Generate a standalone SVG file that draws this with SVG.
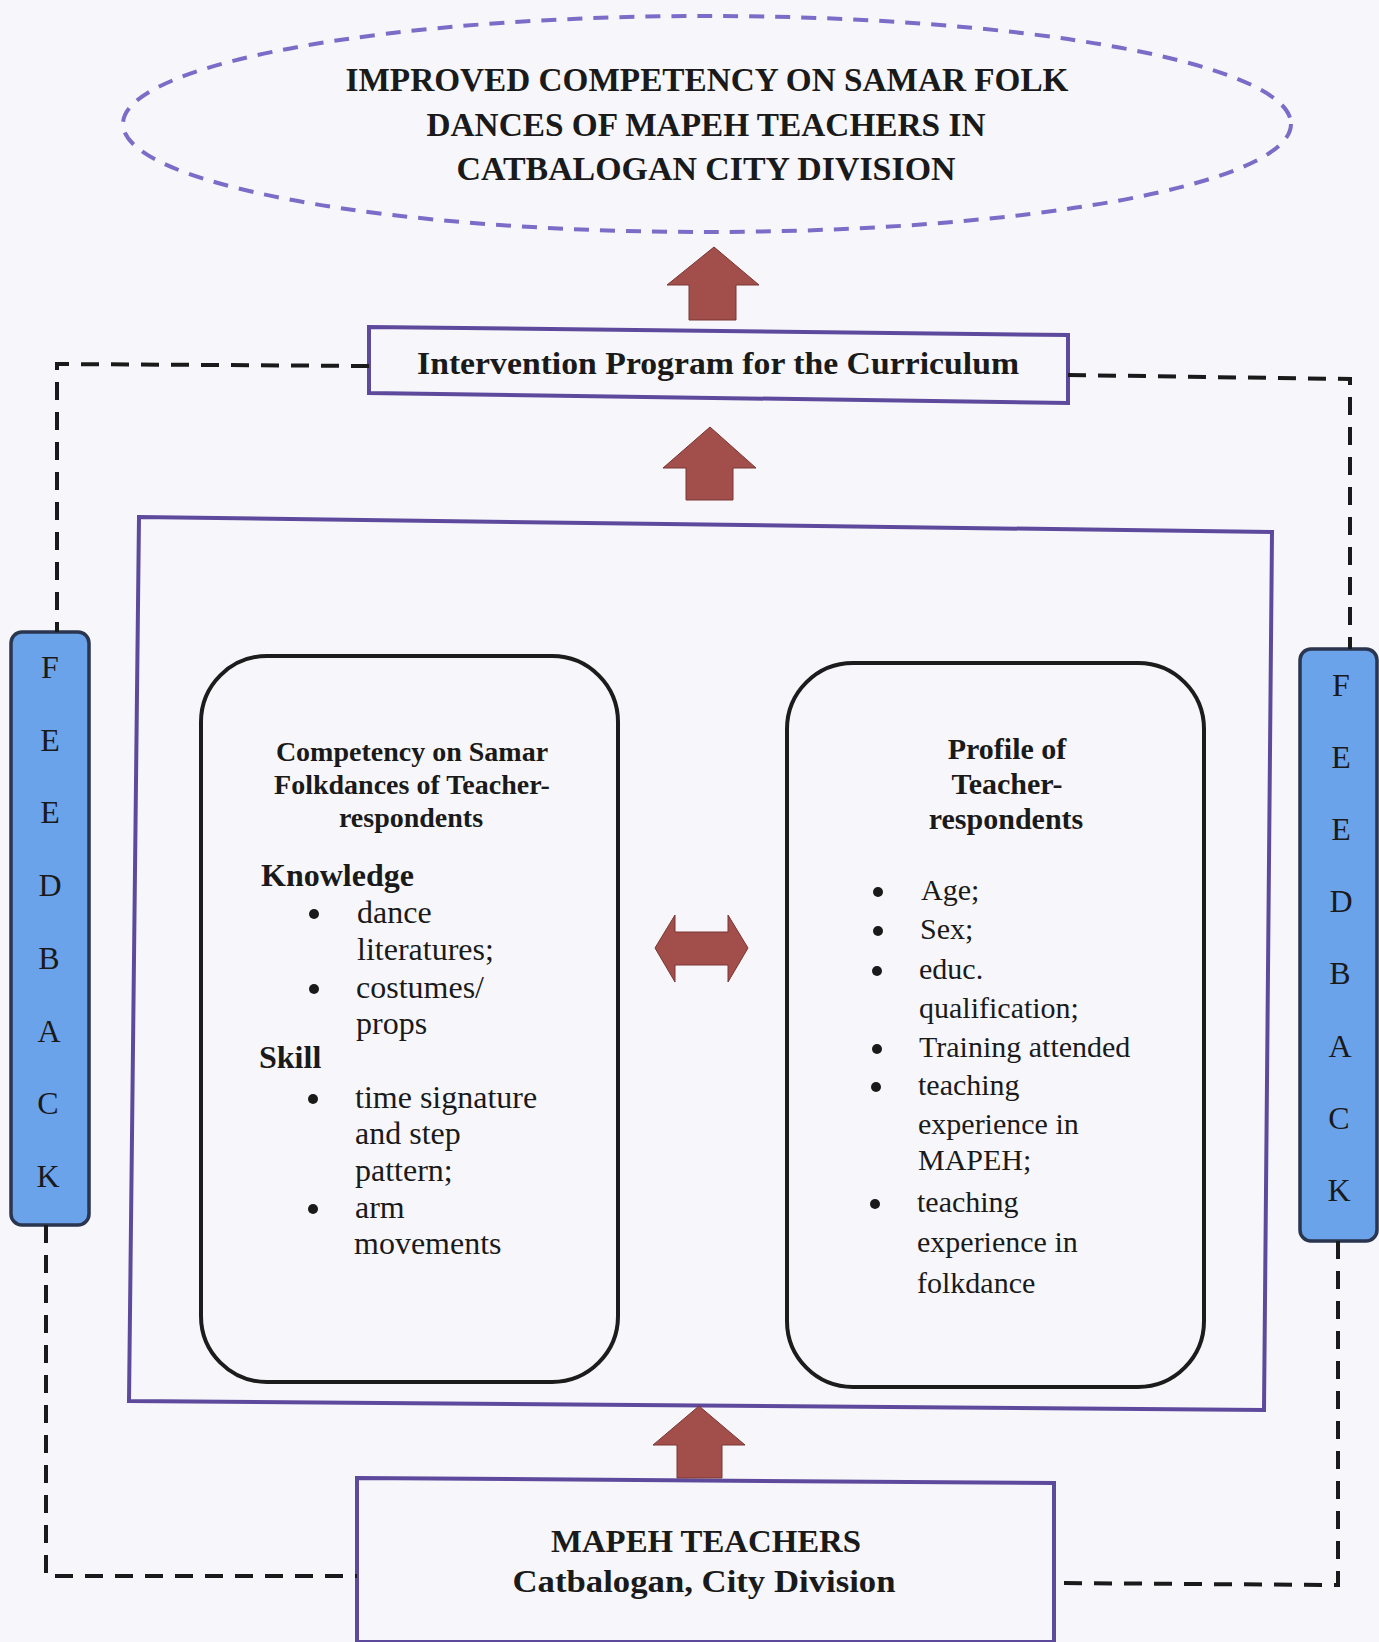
<svg xmlns="http://www.w3.org/2000/svg" width="1379" height="1642" viewBox="0 0 1379 1642">
<style>
.t{font-family:"Liberation Serif","Times New Roman",serif;fill:#1a1a1a}
.b{font-weight:bold}
.pbox{fill:none;stroke:#5e4a9c;stroke-width:4}
.rbox{fill:none;stroke:#1c1c1c;stroke-width:4}
.arrow{fill:#a24f4b;stroke:#7a3532;stroke-width:1}
.fb{fill:#6aa3ea;stroke:#2a3550;stroke-width:3.5}
.dash{fill:none;stroke:#1a1a1a;stroke-width:4;stroke-dasharray:18 12}
.fl{font-family:"Liberation Serif","Times New Roman",serif;font-size:32px;fill:#1a1a1a;text-anchor:middle}
.li{font-size:32px}
.ri{font-size:30px}
</style>
<rect x="0" y="0" width="1379" height="1642" fill="#f7f7fb"/>

<g id="outcome">
  <ellipse cx="707" cy="124" rx="584" ry="108" fill="none" stroke="#7c6cc8" stroke-width="4" stroke-dasharray="15 11"/>
  <text class="t b" x="707" y="91" font-size="33" text-anchor="middle" textLength="723" lengthAdjust="spacingAndGlyphs">IMPROVED COMPETENCY ON SAMAR FOLK</text>
  <text class="t b" x="706" y="136" font-size="33" text-anchor="middle" textLength="559" lengthAdjust="spacingAndGlyphs">DANCES OF MAPEH TEACHERS IN</text>
  <text class="t b" x="706" y="180" font-size="33" text-anchor="middle" textLength="499" lengthAdjust="spacingAndGlyphs">CATBALOGAN CITY DIVISION</text>
</g>

<g id="intervention">
  <polygon class="pbox" points="369,327 1068,335 1068,403 369,393"/>
  <text class="t b" x="718" y="374" font-size="31" text-anchor="middle" textLength="602" lengthAdjust="spacingAndGlyphs">Intervention Program for the Curriculum</text>
</g>

<g id="framework">
  <polygon class="pbox" points="139,517 1272,532 1264,1410 129,1401"/>
</g>

<g id="competency">
  <rect class="rbox" x="201" y="656" width="417" height="726" rx="66" ry="66"/>
  <text class="t b" x="412" y="761" font-size="28" text-anchor="middle">Competency on Samar</text>
  <text class="t b" x="412" y="794" font-size="28" text-anchor="middle">Folkdances of Teacher-</text>
  <text class="t b" x="411" y="827" font-size="28" text-anchor="middle">respondents</text>
  <text class="t b" x="261" y="886" font-size="32">Knowledge</text>
  <circle cx="314" cy="914" r="5" fill="#1a1a1a"/>
  <text class="t li" x="357" y="923">dance</text>
  <text class="t li" x="357" y="960">literatures;</text>
  <circle cx="314" cy="989" r="5" fill="#1a1a1a"/>
  <text class="t li" x="356" y="998">costumes/</text>
  <text class="t li" x="356" y="1034">props</text>
  <text class="t b" x="259" y="1068" font-size="32">Skill</text>
  <circle cx="313" cy="1099" r="5" fill="#1a1a1a"/>
  <text class="t li" x="355" y="1108">time signature</text>
  <text class="t li" x="355" y="1144">and step</text>
  <text class="t li" x="355" y="1181">pattern;</text>
  <circle cx="313" cy="1209" r="5" fill="#1a1a1a"/>
  <text class="t li" x="355" y="1218">arm</text>
  <text class="t li" x="354" y="1254">movements</text>
</g>

<g id="profile">
  <rect class="rbox" x="787" y="663" width="417" height="724" rx="66" ry="66"/>
  <text class="t b" x="1007" y="759" font-size="30" text-anchor="middle">Profile of</text>
  <text class="t b" x="1007" y="794" font-size="30" text-anchor="middle">Teacher-</text>
  <text class="t b" x="1006" y="829" font-size="30" text-anchor="middle">respondents</text>
  <circle cx="878" cy="892" r="5" fill="#1a1a1a"/>
  <text class="t ri" x="921" y="900">Age;</text>
  <circle cx="878" cy="931" r="5" fill="#1a1a1a"/>
  <text class="t ri" x="920" y="939">Sex;</text>
  <circle cx="877" cy="971" r="5" fill="#1a1a1a"/>
  <text class="t ri" x="919" y="979">educ.</text>
  <text class="t ri" x="919" y="1018">qualification;</text>
  <circle cx="877" cy="1049" r="5" fill="#1a1a1a"/>
  <text class="t ri" x="919" y="1057">Training attended</text>
  <circle cx="876" cy="1087" r="5" fill="#1a1a1a"/>
  <text class="t ri" x="918" y="1095">teaching</text>
  <text class="t ri" x="918" y="1134">experience in</text>
  <text class="t ri" x="918" y="1170">MAPEH;</text>
  <circle cx="875" cy="1204" r="5" fill="#1a1a1a"/>
  <text class="t ri" x="917" y="1212">teaching</text>
  <text class="t ri" x="917" y="1252">experience in</text>
  <text class="t ri" x="917" y="1293">folkdance</text>
</g>

<g id="teachers">
  <polygon class="pbox" points="357,1478 1054,1483 1054,1642 357,1642"/>
  <text class="t b" x="706" y="1552" font-size="31" text-anchor="middle" textLength="310" lengthAdjust="spacingAndGlyphs">MAPEH TEACHERS</text>
  <text class="t b" x="704" y="1592" font-size="31" text-anchor="middle" textLength="383" lengthAdjust="spacingAndGlyphs">Catbalogan, City Division</text>
</g>

<g id="feedback-left">
  <rect class="fb" x="11" y="632" width="78" height="593" rx="11" ry="11"/>
  <text class="fl" x="50" y="678">F</text>
  <text class="fl" x="50" y="751">E</text>
  <text class="fl" x="50" y="823">E</text>
  <text class="fl" x="50" y="896">D</text>
  <text class="fl" x="49" y="969">B</text>
  <text class="fl" x="49" y="1042">A</text>
  <text class="fl" x="48" y="1114">C</text>
  <text class="fl" x="48" y="1187">K</text>
</g>

<g id="feedback-right">
  <rect class="fb" x="1300" y="649" width="77" height="592" rx="11" ry="11"/>
  <text class="fl" x="1341" y="696">F</text>
  <text class="fl" x="1341" y="768">E</text>
  <text class="fl" x="1341" y="840">E</text>
  <text class="fl" x="1341" y="912">D</text>
  <text class="fl" x="1340" y="984">B</text>
  <text class="fl" x="1340" y="1057">A</text>
  <text class="fl" x="1339" y="1129">C</text>
  <text class="fl" x="1339" y="1201">K</text>
</g>

<g id="connectors">
  <path class="dash" d="M369,366 L57,364 L57,632"/>
  <path class="dash" d="M46,1225 L46,1576 L357,1576"/>
  <path class="dash" d="M1068,375 L1350,379 L1350,649"/>
  <path class="dash" d="M1338,1241 L1338,1585 L1054,1583"/>
  <polygon class="arrow" points="714,247 759,285 736,285 736,320 689,320 689,285 667,285"/>
  <polygon class="arrow" points="710,427 756,468 733,468 733,500 686,500 686,468 663,468"/>
  <polygon class="arrow" points="699,1406 745,1445 722,1445 722,1478 677,1478 677,1445 653,1445"/>
  <polygon class="arrow" stroke="#3a1c1b" stroke-width="2" points="655,948 675,915 675,932 728,932 728,915 748,948 728,982 728,965 675,965 675,982"/>
</g>
</svg>
